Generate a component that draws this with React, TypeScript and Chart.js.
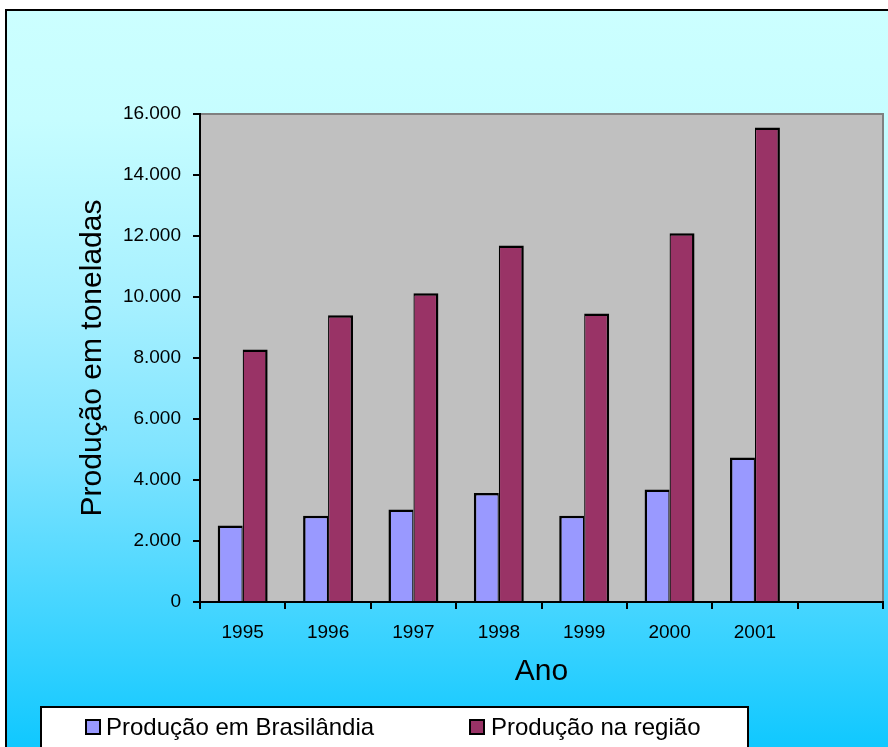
import React, { useEffect, useRef } from "react";
import { Chart, registerables } from "chart.js";

Chart.register(...registerables);

const categories: string[] = ["1995", "1996", "1997", "1998", "1999", "2000", "2001", ""];
const brasilandia: (number | null)[] = [2510, 2830, 3030, 3570, 2830, 3690, 4740, null];
const regiao: (number | null)[] = [8280, 9400, 10120, 11690, 9460, 12090, 15560, null];
const seriesNames: string[] = ["Produção em Brasilândia", "Produção na região"];
const yAxisTitle = "Produção em toneladas";
const xAxisTitle = "Ano";

const FONT = '"Liberation Sans", Arial, sans-serif';

const fmt = (v: number) => String(v).replace(/\B(?=(\d{3})+(?!\d))/g, ".");

const backgroundPlugin = {
  id: "bgFrame",
  beforeDraw(chart: any) {
    const { ctx, width, height, chartArea } = chart;
    ctx.save();
    ctx.fillStyle = "#ffffff";
    ctx.fillRect(0, 0, width, height);
    const g = ctx.createLinearGradient(0, 9, 0, height);
    g.addColorStop(0, "#ccffff");
    g.addColorStop(0.15, "#c6fdff");
    g.addColorStop(0.4, "#a6f0ff");
    g.addColorStop(0.6, "#80e4ff");
    g.addColorStop(0.8, "#48d6ff");
    g.addColorStop(1, "#10c8ff");
    ctx.fillStyle = g;
    ctx.fillRect(6, 10, width, height);
    ctx.strokeStyle = "#000";
    ctx.lineWidth = 2;
    ctx.beginPath();
    ctx.moveTo(6, height + 5);
    ctx.lineTo(6, 10);
    ctx.lineTo(width + 5, 10);
    ctx.stroke();
    const { left, top, right, bottom } = chartArea;
    ctx.fillStyle = "#c0c0c0";
    ctx.fillRect(left, top, right - left, bottom - top);
    ctx.strokeStyle = "#808080";
    ctx.lineWidth = 2;
    ctx.beginPath();
    ctx.moveTo(left, top);
    ctx.lineTo(right, top);
    ctx.lineTo(right, bottom);
    ctx.stroke();
    ctx.restore();
  },
  afterDraw(chart: any) {
    const { ctx, height } = chart;
    ctx.save();
    ctx.fillStyle = "#ffffff";
    ctx.fillRect(41, 707, 707, height);
    ctx.strokeStyle = "#000";
    ctx.lineWidth = 2;
    ctx.beginPath();
    ctx.moveTo(41, height + 5);
    ctx.lineTo(41, 707);
    ctx.lineTo(748, 707);
    ctx.lineTo(748, height + 5);
    ctx.stroke();
    const items = [
      { x: 86, tx: 106 },
      { x: 470, tx: 491 },
    ];
    chart.data.datasets.forEach((ds: any, i: number) => {
      const it = items[i];
      ctx.fillStyle = ds.backgroundColor;
      ctx.fillRect(it.x, 720, 14, 14);
      ctx.strokeStyle = "#000";
      ctx.lineWidth = 2;
      ctx.strokeRect(it.x, 720, 14, 14);
      ctx.fillStyle = "#000";
      ctx.font = `24px ${FONT}`;
      ctx.textBaseline = "alphabetic";
      ctx.textAlign = "left";
      ctx.fillText(ds.label, it.tx, 735);
    });
    ctx.restore();
  },
};

export default function App() {
  const ref = useRef<HTMLCanvasElement | null>(null);
  useEffect(() => {
    if (!ref.current) return;
    const chart = new Chart(ref.current, {
      type: "bar",
      data: {
        labels: categories,
        datasets: [
          {
            label: seriesNames[0],
            data: brasilandia,
            backgroundColor: "#9999ff",
            borderColor: "#000000",
            borderWidth: { top: 2.5, left: 2.5, right: 1.25, bottom: 0 } as any,
            categoryPercentage: 0.585,
            barPercentage: 1,
          },
          {
            label: seriesNames[1],
            data: regiao,
            backgroundColor: "#993366",
            borderColor: "#000000",
            borderWidth: { top: 2.5, left: 1.25, right: 2.5, bottom: 0 } as any,
            categoryPercentage: 0.585,
            barPercentage: 1,
          },
        ],
      },
      options: {
        animation: false,
        responsive: false,
        devicePixelRatio: 1,
        layout: { padding: { top: 114, right: 5, left: 0, bottom: 0 } },
        plugins: {
          legend: { display: false },
          tooltip: { enabled: false },
        },
        scales: {
          x: {
            afterFit: (s: any) => {
              s.height = 145;
            },
            grid: {
              offset: true,
              drawOnChartArea: false,
              drawTicks: true,
              tickLength: 7,
              color: "#000",
              lineWidth: 2,
            },
            border: { color: "#000", width: 2 },
            ticks: {
              color: "#000",
              font: { family: FONT, size: 19 },
              padding: 12,
              maxRotation: 0,
              autoSkip: false,
            },
            title: {
              display: true,
              text: xAxisTitle,
              color: "#000",
              font: { family: FONT, size: 30 },
              padding: { top: 0, bottom: 57 },
            },
          },
          y: {
            min: 0,
            max: 16000,
            afterFit: (s: any) => {
              s.width = 200;
            },
            grid: {
              drawOnChartArea: false,
              drawTicks: true,
              tickLength: 7,
              color: "#000",
              lineWidth: 2,
            },
            border: { color: "#000", width: 2 },
            ticks: {
              stepSize: 2000,
              color: "#000",
              font: { family: FONT, size: 19 },
              padding: 12,
              callback: (v: any) => fmt(Number(v)),
            },
            title: {
              display: true,
              text: yAxisTitle,
              color: "#000",
              font: { family: FONT, size: 30 },
              padding: { top: 75, bottom: 0 },
            },
          },
        },
      },
      plugins: [backgroundPlugin],
    });
    return () => chart.destroy();
  }, []);
  return (
    <div style={{ position: "absolute", left: 0, top: 0, width: 888, height: 747 }}>
      <canvas ref={ref} width={888} height={747} style={{ display: "block", width: 888, height: 747 }} />
    </div>
  );
}
